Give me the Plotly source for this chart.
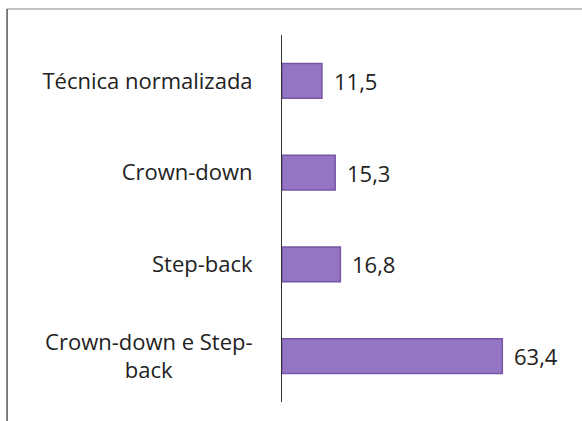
import plotly.graph_objects as go

categories = ["Técnica normalizada", "Crown-down", "Step-back", "Crown-down e Step-<br>back" + "&nbsp;" * 14]
values = [11.5, 15.3, 16.8, 63.4]
value_labels = ["11,5", "15,3", "16,8", "63,4"]

FONT = "'Open Sans', Lato, sans-serif"

fig = go.Figure()
fig.add_trace(go.Bar(
    x=values,
    y=categories,
    orientation="h",
    marker=dict(color="#9474c4", line=dict(color="#7556a3", width=1.5)),
    hoverinfo="skip",
))

for v, lab, cat in zip(values, value_labels, categories):
    fig.add_annotation(x=v, y=cat, xref="x", yref="y", text=lab, showarrow=False,
                       xanchor="left", xshift=10, font=dict(family=FONT, size=22, color="#222222"))

# outer chart border (top and left edges visible)
fig.add_shape(type="line", xref="paper", yref="paper", x0=-0.989, x1=1.3, y0=1.0708, y1=1.0708,
              line=dict(color="#8a8a8a", width=1.2))
fig.add_shape(type="line", xref="paper", yref="paper", x0=-0.989, x1=-0.989, y0=1.0708, y1=-0.2,
              line=dict(color="#555555", width=1.5))

fig.update_layout(
    width=582, height=421,
    margin=dict(l=282, r=22, t=35, b=19),
    paper_bgcolor="white", plot_bgcolor="white",
    showlegend=False,
    bargap=0.62,
    xaxis=dict(range=[0, 80], visible=False, showgrid=False, zeroline=False),
    yaxis=dict(autorange="reversed", showgrid=False, zeroline=False,
               showline=True, linecolor="#333333", linewidth=1,
               ticks="", ticklabelstandoff=24,
               tickfont=dict(family=FONT, size=22, color="#222222")),
)

fig.write_html("out.html", config={"displayModeBar": False},
               post_script="document.body.style.margin='0';")
